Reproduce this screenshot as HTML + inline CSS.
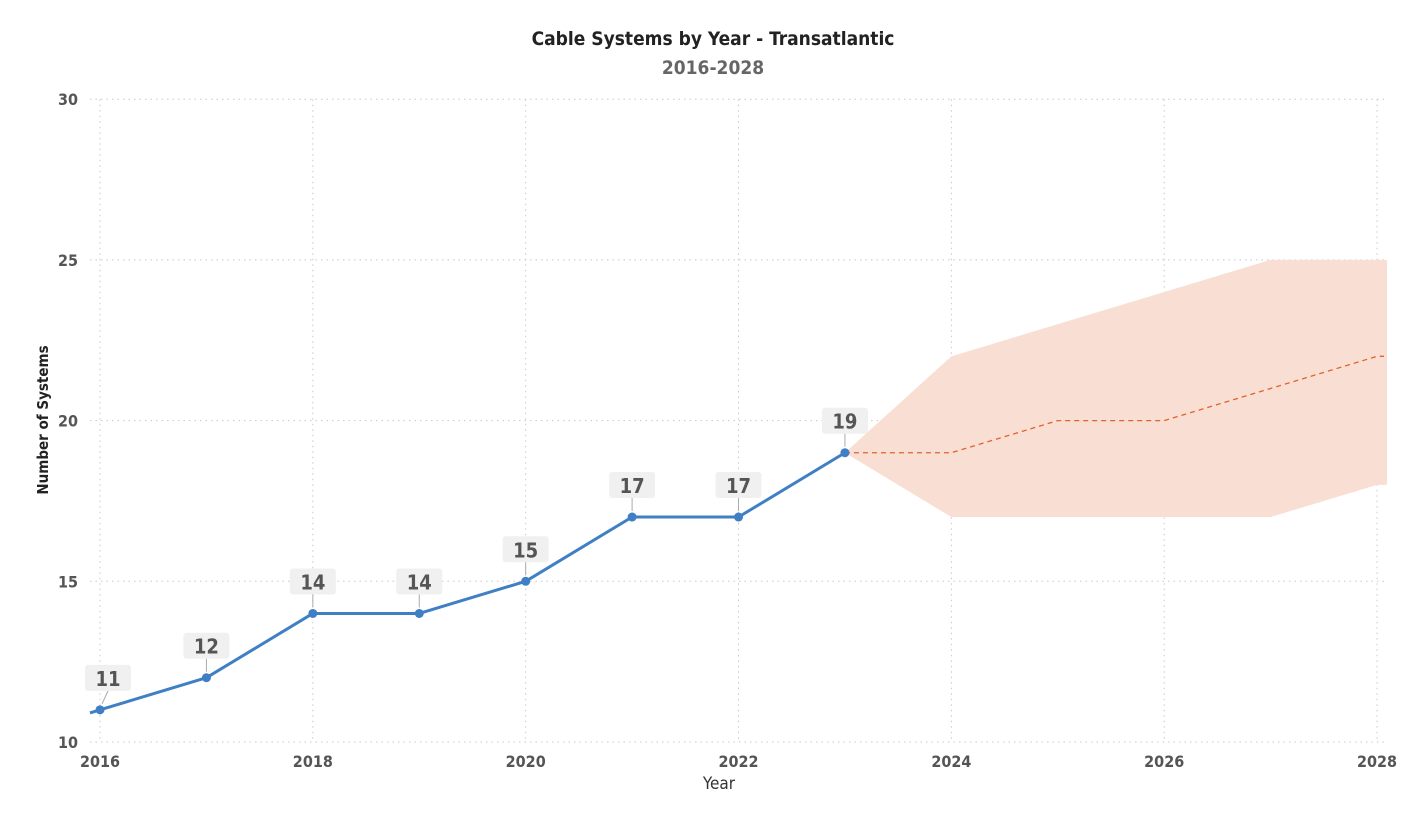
<!DOCTYPE html>
<html><head><meta charset="utf-8"><style>
html,body{margin:0;padding:0;background:#fff;}
svg{display:block;font-family:"DejaVu Sans Condensed","Liberation Sans",sans-serif;}
</style></head><body>
<svg id="chart" width="1427" height="825">
<text x="713" y="45" text-anchor="middle" font-size="19" font-weight="bold" fill="#222">Cable Systems by Year - Transatlantic</text>
<text x="713" y="74" text-anchor="middle" font-size="19" font-weight="bold" fill="#666">2016-2028</text>
<text x="719" y="789" text-anchor="middle" font-size="17" fill="#333">Year</text>
<text transform="translate(48,420) rotate(-90)" text-anchor="middle" font-size="15" font-weight="bold" fill="#222">Number of Systems</text>
<g id="grid"></g><g id="band"></g><g id="lines"></g><g id="labels"></g>
</svg>
<script>
const years=[2016,2017,2018,2019,2020,2021,2022,2023];
const actual=[11,12,14,14,15,17,17,19];
const fcYears=[2023,2024,2025,2026,2027,2028];
const forecast=[19,19,20,20,21,22];
const upper=[19,22,23,24,25,25];
const lower=[19,17,17,17,17,18];
const yTicks=[10,15,20,25,30];
const xTicks=[2016,2018,2020,2022,2024,2026,2028];
const NS="http://www.w3.org/2000/svg";
const X=v=>100+(v-2016)*106.42, Y=v=>742-(v-10)*32.14;
const PL=90, PR=1387;
function mk(t,a,p){const e=document.createElementNS(NS,t);for(const k in a)e.setAttribute(k,a[k]);p.appendChild(e);return e;}
const g=document.getElementById('grid');
yTicks.forEach(t=>{
 const l=mk('line',{x1:PL,x2:PR,y1:Y(t),y2:Y(t),stroke:'#c8c8c8','stroke-dasharray':'1.5 4'},g);
 
 
 const tx=mk('text',{x:78,y:Y(t)+6,'text-anchor':'end','font-size':16,'font-weight':'bold',fill:'#555'},g);tx.textContent=t;
 
 
});
xTicks.forEach(t=>{
 const l=mk('line',{x1:X(t),x2:X(t),y1:Y(30),y2:Y(10),stroke:'#c8c8c8','stroke-dasharray':'1.5 4'},g);
 
 
 const tx=mk('text',{x:X(t),y:767,'text-anchor':'middle','font-size':16,'font-weight':'bold',fill:'#555'},g);tx.textContent=t;
 
 
});
// forecast band
let pts=fcYears.map((y,i)=>[X(y),Y(upper[i])]);
pts.push([PR,Y(upper[upper.length-1])],[PR,Y(lower[lower.length-1])]);
for(let i=fcYears.length-1;i>=0;i--)pts.push([X(fcYears[i]),Y(lower[i])]);
const band=mk('polygon',{points:pts.map(p=>p.join(',')).join(' '),fill:'#f9dfd3'},document.getElementById('band'));


const L=document.getElementById('lines');
const fl=mk('polyline',{points:fcYears.map((y,i)=>X(y)+','+Y(forecast[i])).join(' ')+' '+(X(2028)+7)+','+Y(forecast[forecast.length-1]),fill:'none',stroke:'#e0622e','stroke-width':1.3,'stroke-dasharray':'5 4'},L);


// actual line with slight left extension
const slope=(Y(actual[1])-Y(actual[0]))/(X(years[1])-X(years[0]));
const ext=[PL,Y(actual[0])-slope*(X(years[0])-PL)];
const al=mk('polyline',{points:ext.join(',')+' '+years.map((y,i)=>X(y)+','+Y(actual[i])).join(' '),fill:'none',stroke:'#3f7fc4','stroke-width':3,'stroke-linejoin':'round'},L);


const LB=document.getElementById('labels');
years.forEach((y,i)=>{
 const cx=X(y),cy=Y(actual[i]);
 const c=mk('circle',{cx:cx,cy:cy,r:4.5,fill:'#3f7fc4'},LB);
 
 
 const ox=i===0?8:0;
 mk('line',{x1:cx+(i===0?2:0),y1:cy-6,x2:cx+ox,y2:cy-19,stroke:'#aaa','stroke-width':1},LB);
 const r=mk('rect',{x:cx+ox-23,y:cy-45,width:46,height:26,rx:3,fill:'#f0f0f0'},LB);
 
 
 const t=mk('text',{x:cx+ox,y:cy-24,'text-anchor':'middle','font-size':20,'font-weight':'bold',fill:'#555'},LB);t.textContent=actual[i];
 
 
});
</script>
</body></html>
